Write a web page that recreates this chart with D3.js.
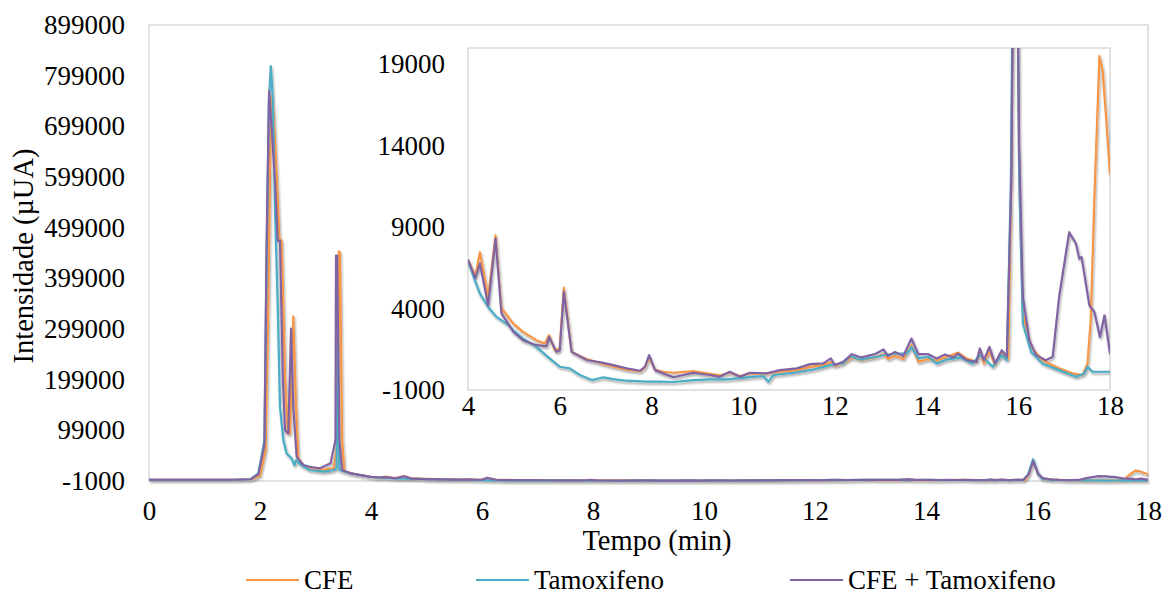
<!DOCTYPE html>
<html>
<head>
<meta charset="UTF-8">
<title>Cromatograma - CFE e Tamoxifeno</title>
<style>
  body { margin: 0; background: white; overflow: hidden; }
  svg { display: block; font-family: "Liberation Serif", "Times New Roman", serif; }
  .tick text { font-size: 27px; fill: #000; font-family: "Liberation Serif", "Times New Roman", serif; }
  .frame { fill: none; stroke: #d9d9d9; stroke-width: 1.5; }
  .serie { fill: none; stroke-width: 2.2; stroke-linejoin: round; }
</style>
<script src="https://cdnjs.cloudflare.com/ajax/libs/d3/7.8.5/d3.min.js"></script>
</head>
<body>
<div id="chart"></div>
<script>
// series names / colours (Office 2007 palette)
const seriesNames = ["CFE", "Tamoxifeno", "CFE + Tamoxifeno"];
const seriesColors = ["#F79646", "#4BACC6", "#8064A2"];

// tick labels
const mainXTicks = [0, 2, 4, 6, 8, 10, 12, 14, 16, 18];
const mainYTicks = [-1000, 99000, 199000, 299000, 399000, 499000, 599000, 699000, 799000, 899000];
const insetXTicks = [4, 6, 8, 10, 12, 14, 16, 18];
const insetYTicks = [-1000, 4000, 9000, 14000, 19000];

// [tempo (min), intensidade (µUA)]
const cfe = [
  [0, 1500], [1.5, 1500], [1.85, 2500], [2.0, 10000], [2.1, 60000], [2.15, 350000], [2.19, 700000],
  [2.21, 758800], [2.24, 735800], [2.30, 604700], [2.35, 476700], [2.39, 473400], [2.45, 211000],
  [2.50, 92900], [2.54, 92900], [2.60, 323800], [2.65, 145300], [2.69, 43700], [2.80, 27100],
  [3.08, 20700], [3.33, 24000], [3.40, 79700], [3.42, 452300], [3.44, 450000], [3.48, 79700],
  [3.52, 17400], [3.8, 10800], [4.0, 7000], [4.16, 6000], [4.26, 7460], [4.44, 4710], [4.6, 8490],
  [4.73, 4020], [4.99, 3080], [5.2, 2570], [5.49, 2060], [5.67, 1860], [5.77, 2370], [5.89, 1450],
  [6.0, 1550], [6.09, 5290], [6.26, 1340], [6.43, 1100], [6.59, 900], [6.95, 600], [7.17, 450],
  [7.46, 250], [7.75, 150], [7.86, 400], [7.95, 1000], [8.08, 250], [8.26, 120], [8.48, 60],
  [8.91, 160], [9.28, 0], [9.49, -100], [9.71, 60], [9.93, -150], [10.15, 20], [10.51, 0],
  [10.8, 120], [11.17, 220], [11.46, 420], [11.75, 530], [11.91, 700], [12.0, 480], [12.18, 630],
  [12.37, 1000], [12.58, 840], [12.87, 1000], [13.06, 1200], [13.16, 900], [13.31, 1100],
  [13.49, 900], [13.67, 1760], [13.82, 730], [14.04, 900], [14.22, 800], [14.4, 1000],
  [14.69, 1300], [14.87, 940], [15.09, 730], [15.16, 1340], [15.25, 630], [15.37, 1440],
  [15.49, 530], [15.64, 1340], [15.78, 940], [15.85, 12000], [15.93, 40000], [16.02, 12000],
  [16.1, 3690], [16.28, 1650], [16.53, 830], [16.89, 330], [17.18, 20], [17.4, -80], [17.51, 630],
  [17.58, 3280], [17.66, 10830], [17.77, 19500], [17.84, 18580], [17.91, 15930], [18.0, 12260]
];

const tamoxifeno = [
  [0, 1500], [1.5, 1500], [1.83, 2500], [1.97, 14000], [2.08, 80000], [2.12, 450000], [2.16, 750000],
  [2.195, 817900], [2.23, 755500], [2.27, 539000], [2.32, 342100], [2.36, 145300], [2.42, 79700],
  [2.48, 53300], [2.57, 43700], [2.62, 30500], [2.65, 40000], [2.74, 30500], [2.9, 20700],
  [3.15, 17400], [3.33, 20700], [3.38, 24000], [3.40, 270000], [3.43, 20700], [3.63, 14100],
  [4.0, 6950], [4.15, 5730], [4.26, 4920], [4.44, 4100], [4.62, 3490], [4.84, 3080], [4.99, 2670],
  [5.2, 2160], [5.49, 1650], [5.78, 940], [6.0, 430], [6.22, 330], [6.44, -80], [6.7, -390],
  [6.95, -220], [7.17, -330], [7.46, -430], [7.9, -490], [8.19, -490], [8.48, -510], [8.91, -390],
  [9.28, -350], [9.64, -350], [10.08, -220], [10.44, -140], [10.55, -490], [10.66, -80],
  [11.1, 60], [11.54, 260], [11.89, 530], [12.18, 630], [12.33, 1080], [12.55, 870], [12.91, 1040],
  [13.13, 1180], [13.35, 1240], [13.57, 1240], [13.67, 1650], [13.82, 940], [14.04, 1040],
  [14.22, 630], [14.43, 870], [14.73, 1000], [15.0, 630], [15.16, 1140], [15.3, 830], [15.44, 430],
  [15.64, 1140], [15.75, 830], [15.84, 12000], [15.93, 42000], [16.02, 12000], [16.1, 3080],
  [16.28, 1340], [16.53, 630], [16.89, 220], [17.26, -190], [17.44, 20], [17.51, 430], [17.62, 120],
  [18.0, 120]
];

const cfeTamoxifeno = [
  [0, 1500], [1.5, 1500], [1.83, 2500], [1.97, 12000], [2.08, 70000], [2.12, 473400], [2.165, 768700],
  [2.21, 696500], [2.27, 591500], [2.32, 473400], [2.36, 473400], [2.41, 211000], [2.45, 99400],
  [2.51, 92900], [2.56, 299600], [2.6, 145300], [2.66, 46800], [2.78, 30500], [2.9, 27100],
  [3.08, 24000], [3.27, 33800], [3.36, 79700], [3.37, 443900], [3.39, 443900], [3.43, 79700],
  [3.48, 20650], [3.63, 14100], [4.0, 7000], [4.16, 5860], [4.26, 6770], [4.44, 4200], [4.6, 8300],
  [4.73, 3700], [4.99, 2570], [5.2, 2060], [5.49, 1750], [5.71, 1690], [5.77, 2260], [5.93, 1340],
  [6.0, 1440], [6.09, 5020], [6.26, 1340], [6.59, 840], [6.95, 670], [7.17, 530], [7.46, 330],
  [7.75, 180], [7.86, 430], [7.95, 1140], [8.08, 220], [8.26, 20], [8.48, -220], [8.91, 60],
  [9.28, -80], [9.49, -190], [9.71, 120], [9.93, -190], [10.15, 60], [10.51, 20], [10.8, 220],
  [11.17, 330], [11.46, 590], [11.75, 630], [11.91, 940], [12.0, 530], [12.18, 730], [12.37, 1200],
  [12.58, 1000], [12.87, 1200], [13.06, 1490], [13.16, 1080], [13.31, 1340], [13.49, 1080],
  [13.67, 2160], [13.82, 1200], [14.04, 1200], [14.22, 940], [14.4, 1180], [14.58, 1000],
  [14.69, 1240], [14.87, 840], [15.09, 730], [15.16, 1550], [15.25, 830], [15.37, 1650],
  [15.49, 630], [15.64, 1440], [15.75, 1040], [15.85, 12000], [15.93, 38000], [16.02, 14000],
  [16.1, 4710], [16.24, 2060], [16.39, 1140], [16.6, 830], [16.75, 1040], [16.89, 4710],
  [17.11, 8690], [17.26, 7980], [17.33, 7060], [17.38, 7170], [17.55, 4200], [17.66, 3790],
  [17.78, 2260], [17.88, 3590], [18.0, 1240]
];

const series = [cfe, tamoxifeno, cfeTamoxifeno];

const width = 1164;
const height = 596;

const svg = d3.select("#chart")
  .append("svg")
  .attr("width", width)
  .attr("height", height);

const defs = svg.append("defs");
defs.append("filter")
  .attr("id", "sombra")
  .attr("x", "-5%").attr("y", "-5%").attr("width", "110%").attr("height", "115%")
  .append("feDropShadow")
  .attr("dx", 1).attr("dy", 2)
  .attr("stdDeviation", 1.3)
  .attr("flood-color", "#000")
  .attr("flood-opacity", 0.35);

const fmt = d => String(d);

// ---- main chart ----
const main = {left: 149, right: 1148, top: 25, bottom: 481};

const x = d3.scaleLinear().domain([0, 18]).range([main.left, main.right]);
const y = d3.scaleLinear().domain([-1000, 899000]).range([main.bottom, main.top]);

svg.append("rect")
  .attr("class", "frame")
  .attr("x", main.left).attr("y", main.top)
  .attr("width", main.right - main.left).attr("height", main.bottom - main.top);

svg.append("g")
  .attr("transform", `translate(0,${main.bottom})`)
  .call(d3.axisBottom(x).tickValues(mainXTicks).tickFormat(fmt).tickSize(0).tickPadding(20))
  .call(g => g.select(".domain").remove());

svg.append("g")
  .attr("transform", `translate(${main.left},0)`)
  .call(d3.axisLeft(y).tickValues(mainYTicks).tickFormat(fmt).tickSize(0).tickPadding(24))
  .call(g => g.select(".domain").remove());

const line = d3.line().x(d => x(d[0])).y(d => y(d[1]));

svg.append("g")
  .attr("filter", "url(#sombra)")
  .selectAll("path")
  .data(series)
  .enter().append("path")
  .attr("class", "serie")
  .attr("stroke", (d, i) => seriesColors[i])
  .attr("d", line);

svg.append("text")
  .attr("x", 657)
  .attr("y", 540)
  .attr("dy", "0.35em")
  .attr("text-anchor", "middle")
  .style("font-size", "28.5px")
  .text("Tempo (min)");

svg.append("text")
  .attr("transform", "translate(23,256) rotate(-90)")
  .attr("dy", "0.35em")
  .attr("text-anchor", "middle")
  .style("font-size", "28.5px")
  .text("Intensidade (µUA)");

// ---- inset (zoom 4-18 min) ----
const ins = {left: 468, right: 1110, top: 48, bottom: 390};

const xi = d3.scaleLinear().domain([4, 18]).range([ins.left, ins.right]);
const yi = d3.scaleLinear().domain([-1000, 20000]).range([ins.bottom, ins.top]);

svg.append("rect")
  .attr("x", 376).attr("y", 36)
  .attr("width", ins.right - 376 + 14).attr("height", 385)
  .attr("fill", "white");

defs.append("clipPath")
  .attr("id", "clipInset")
  .append("rect")
  .attr("x", ins.left).attr("y", ins.top)
  .attr("width", ins.right - ins.left).attr("height", ins.bottom - ins.top);

svg.append("rect")
  .attr("class", "frame")
  .attr("x", ins.left).attr("y", ins.top)
  .attr("width", ins.right - ins.left).attr("height", ins.bottom - ins.top);

svg.append("g")
  .attr("transform", `translate(0,${ins.bottom})`)
  .call(d3.axisBottom(xi).tickValues(insetXTicks).tickFormat(fmt).tickSize(0).tickPadding(6))
  .call(g => g.select(".domain").remove());

svg.append("g")
  .attr("transform", `translate(${ins.left},0)`)
  .call(d3.axisLeft(yi).tickValues(insetYTicks).tickFormat(fmt).tickSize(0).tickPadding(23))
  .call(g => g.select(".domain").remove());

const lineInset = d3.line().x(d => xi(d[0])).y(d => yi(d[1]));

svg.append("g")
  .attr("clip-path", "url(#clipInset)")
  .append("g")
  .attr("filter", "url(#sombra)")
  .selectAll("path")
  .data(series.map(s => s.filter(d => d[0] >= 4)))
  .enter().append("path")
  .attr("class", "serie")
  .attr("stroke", (d, i) => seriesColors[i])
  .attr("d", lineInset);

// ---- legend ----
const legendX = [246, 476, 790];
const legend = svg.append("g")
  .selectAll("g")
  .data(seriesNames)
  .enter().append("g")
  .attr("transform", (d, i) => `translate(${legendX[i]},580)`);

legend.append("line")
  .attr("x1", 0).attr("x2", 53)
  .attr("stroke", (d, i) => seriesColors[i])
  .attr("stroke-width", 2.2);

legend.append("text")
  .attr("x", 58)
  .attr("dy", "0.35em")
  .style("font-size", "27px")
  .text(d => d);
</script>
</body>
</html>
